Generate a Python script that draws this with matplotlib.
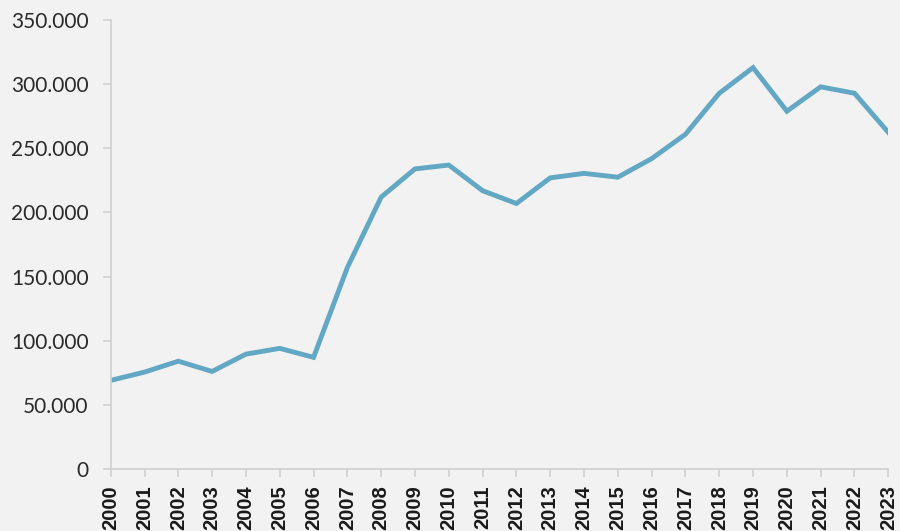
import matplotlib.pyplot as plt
from matplotlib.ticker import FuncFormatter

# Dados
anos = list(range(2000, 2024))
valores = [69000, 75500, 84000, 76000, 89500, 94000, 87000, 157000,
           212000, 234000, 237000, 217000, 207000, 227000, 230500, 227500,
           242000, 261000, 293000, 313000, 279000, 298000, 293000, 262500]
rotulos = [str(a) for a in anos]

fig = plt.figure(figsize=(9, 5.31), dpi=100)
fig.patch.set_facecolor('#f2f2f2')
ax = fig.add_axes([0.123, 0.117, 0.864, 0.845])
ax.set_facecolor('none')

ax.plot(anos, valores, color='#62a7c3', linewidth=3.5, solid_joinstyle='miter')

ax.set_xlim(2000, 2023)
ax.set_ylim(0, 350000)
ax.set_yticks(range(0, 350001, 50000))
ax.yaxis.set_major_formatter(FuncFormatter(lambda v, p: f'{int(v):,}'.replace(',', '.')))
ax.set_xticks(anos)
ax.set_xticklabels(rotulos, rotation=90, fontweight='bold', fontsize=14.5,
                   family='Liberation Sans', color='#1a1a1a')
for t in ax.get_yticklabels():
    t.set_family('Lato')
    t.set_fontsize(15)
    t.set_color('#2a2a2a')

for s in ['top', 'right']:
    ax.spines[s].set_visible(False)
for s in ['left', 'bottom']:
    ax.spines[s].set_color('#d0d0d0')
    ax.spines[s].set_linewidth(1.2)
ax.tick_params(axis='both', color='#d0d0d0', length=6, width=1.2)
ax.tick_params(axis='y', pad=10)
ax.tick_params(axis='x', pad=6)

fig.savefig('out.png', dpi=100, facecolor=fig.get_facecolor())
